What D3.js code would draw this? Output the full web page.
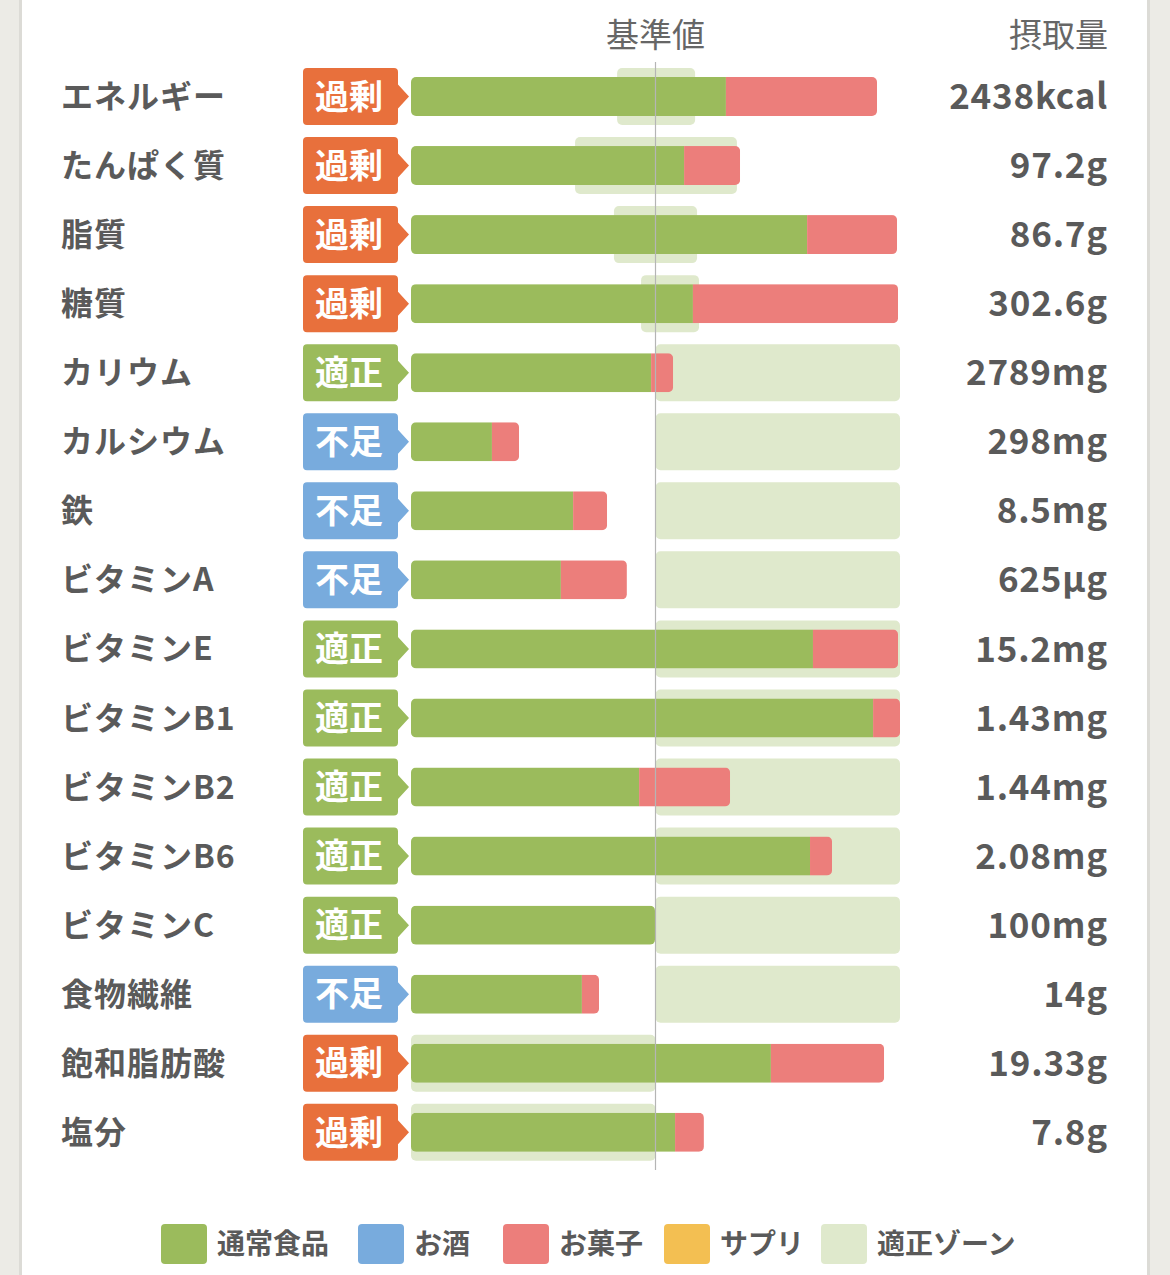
<!DOCTYPE html>
<html>
<head>
<meta charset="utf-8">
<script src="https://cdn.jsdelivr.net/npm/d3@7"></script>
<style>
  html, body { margin: 0; padding: 0; background: #ecebe6; }
  svg { display: block; font-family: "Noto Sans CJK JP", "Noto Sans", sans-serif; }
</style>
</head>
<body>
<div id="chart"></div>
<script>
// nutrients, judgement, intake as % of reference value
var nutrients = ["エネルギー", "たんぱく質", "脂質", "糖質", "カリウム", "カルシウム", "鉄", "ビタミンA",
  "ビタミンE", "ビタミンB1", "ビタミンB2", "ビタミンB6", "ビタミンC", "食物繊維", "飽和脂肪酸", "塩分"];
var judgements = ["過剰", "過剰", "過剰", "過剰", "適正", "不足", "不足", "不足",
  "適正", "適正", "適正", "適正", "適正", "不足", "過剰", "過剰"];
var food = [128.8, 111.7, 162.0, 115.3, 98.2, 33.1, 66.3, 61.3, 164.4, 189.0, 93.3, 163.2, 99.8, 69.9, 147.2, 108.0];
var sweets = [61.8, 22.9, 36.8, 83.9, 9.0, 11.1, 13.9, 27.0, 34.8, 11.0, 37.2, 9.0, 0, 7.0, 46.3, 11.8];
var zoneLo = [84.3, 67.1, 83.0, 94.1, 100, 100, 100, 100, 100, 100, 100, 100, 100, 100, 0, 0];
var zoneHi = [116.2, 133.3, 117.0, 117.8, 200, 200, 200, 200, 200, 200, 200, 200, 200, 200, 100, 100];
var intake = ["2438kcal", "97.2g", "86.7g", "302.6g", "2789mg", "298mg", "8.5mg", "625µg",
  "15.2mg", "1.43mg", "1.44mg", "2.08mg", "100mg", "14g", "19.33g", "7.8g"];
var legendLabels = ["通常食品", "お酒", "お菓子", "サプリ", "適正ゾーン"];

var W = 1170, H = 1275;
var textColor = "#5a5a5a";
var colors = {food: "#9bbb5c", alcohol: "#78abdd", sweets: "#ec7e7b", supple: "#f3bf52", zone: "#dfe9cc"};
var badgeColors = {"過剰": "#e8703c", "適正": "#9bbb5c", "不足": "#78abdd"};
var legendColors = [colors.food, colors.alcohol, colors.sweets, colors.supple, colors.zone];

var rows = nutrients.map(function(n, i) {
  return {name: n, judge: judgements[i], food: food[i], sweets: sweets[i], lo: zoneLo[i], hi: zoneHi[i], intake: intake[i]};
});

var svg = d3.select("#chart").append("svg")
  .attr("width", W)
  .attr("height", H);

svg.append("rect").attr("width", W).attr("height", H).attr("fill", "#ecebe6");
svg.append("rect").attr("x", 19).attr("width", 1131).attr("height", H).attr("fill", "#dcdbd6");
svg.append("rect").attr("x", 22).attr("width", 1125).attr("height", H).attr("fill", "#ffffff");

var x = d3.scaleLinear().domain([0, 200]).range([411, 900]);
var y = d3.scalePoint().domain(nutrients).range([96.5, 1132.3]);

var barH = 39, zoneH = 57;

// headers
svg.append("text")
  .attr("x", x(100)).attr("y", 47)
  .attr("text-anchor", "middle")
  .attr("font-size", 33)
  .attr("fill", "#666")
  .text("基準値");

svg.append("text")
  .attr("x", 1108).attr("y", 47)
  .attr("text-anchor", "end")
  .attr("font-size", 33)
  .attr("fill", "#666")
  .text("摂取量");

var row = svg.selectAll(".row")
  .data(rows)
  .enter().append("g")
    .attr("class", "row")
    .attr("transform", function(d) { return "translate(0," + y(d.name) + ")"; });

// zone
row.append("rect")
  .attr("x", function(d) { return x(d.lo); })
  .attr("y", -zoneH / 2)
  .attr("width", function(d) { return x(d.hi) - x(d.lo); })
  .attr("height", zoneH)
  .attr("rx", 5)
  .attr("fill", colors.zone);

// stacked bar: clip to rounded outline
row.append("clipPath")
  .attr("id", function(d, i) { return "clip" + i; })
  .append("rect")
    .attr("x", x(0))
    .attr("y", -barH / 2)
    .attr("width", function(d) { return x(d.food + d.sweets) - x(0); })
    .attr("height", barH)
    .attr("rx", 5);

var bars = row.append("g")
  .attr("clip-path", function(d, i) { return "url(#clip" + i + ")"; });

bars.append("rect")
  .attr("x", x(0))
  .attr("y", -barH / 2)
  .attr("width", function(d) { return x(d.food) - x(0); })
  .attr("height", barH)
  .attr("fill", colors.food);

bars.append("rect")
  .attr("x", function(d) { return x(d.food); })
  .attr("y", -barH / 2)
  .attr("width", function(d) { return x(d.food + d.sweets) - x(d.food); })
  .attr("height", barH)
  .attr("fill", colors.sweets);

// badge with arrow
row.append("path")
  .attr("d", "M307,-28.5H394a4,4 0 0 1 4,4V-12L409,0L398,12V24.5a4,4 0 0 1 -4,4H307a4,4 0 0 1 -4,-4V-24.5a4,4 0 0 1 4,-4Z")
  .attr("fill", function(d) { return badgeColors[d.judge]; });

row.append("text")
  .attr("x", 349).attr("y", 0)
  .attr("dy", "0.36em")
  .attr("text-anchor", "middle")
  .attr("font-size", 34)
  .attr("font-weight", 700)
  .attr("fill", "#fff")
  .text(function(d) { return d.judge; });

// labels
row.append("text")
  .attr("x", 61).attr("y", 0)
  .attr("dy", "0.36em")
  .attr("font-size", 32)
  .attr("font-weight", 700)
  .attr("letter-spacing", 1)
  .attr("fill", textColor)
  .text(function(d) { return d.name; });

row.append("text")
  .attr("x", 1108).attr("y", 0)
  .attr("dy", "0.36em")
  .attr("text-anchor", "end")
  .attr("font-size", 35)
  .attr("font-weight", 700)
  .attr("letter-spacing", 0.8)
  .attr("fill", textColor)
  .text(function(d) { return d.intake; });

// reference line (100%)
svg.append("line")
  .attr("x1", x(100)).attr("x2", x(100))
  .attr("y1", 62).attr("y2", 1170)
  .attr("stroke", "#b5b5b5")
  .attr("stroke-width", 1.2);

// legend
var legendX = [161, 358, 503, 664, 821];
var legend = svg.selectAll(".legend")
  .data(legendLabels)
  .enter().append("g")
    .attr("class", "legend")
    .attr("transform", function(d, i) { return "translate(" + legendX[i] + ",1224)"; });

legend.append("rect")
  .attr("width", 46).attr("height", 40)
  .attr("rx", 4)
  .attr("fill", function(d, i) { return legendColors[i]; });

legend.append("text")
  .attr("x", 56).attr("y", 20)
  .attr("dy", "0.36em")
  .attr("font-size", 28)
  .attr("font-weight", 700)
  .attr("fill", textColor)
  .text(function(d) { return d; });
</script>
</body>
</html>
